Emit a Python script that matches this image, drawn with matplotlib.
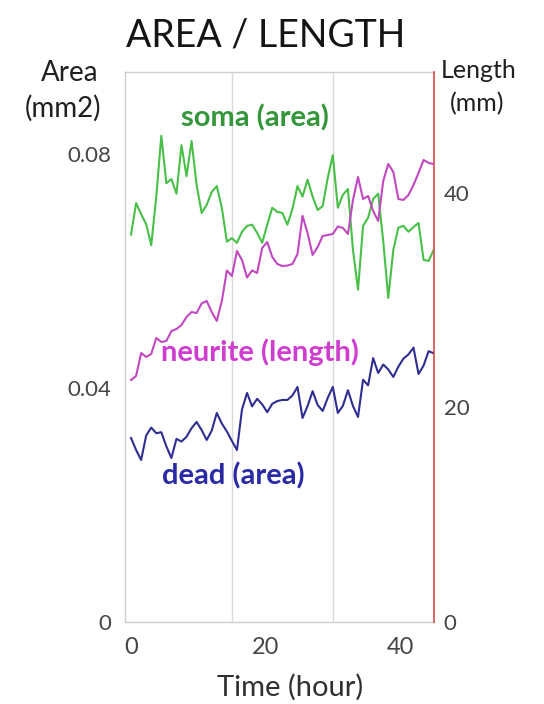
import numpy as np
import matplotlib
matplotlib.use("Agg")
import matplotlib.pyplot as plt
from matplotlib.ticker import FixedLocator, NullFormatter

# ---- data ----
time_hours = np.arange(0, 45.01, 0.75)

soma_area = [0.0662, 0.0716, 0.0697, 0.0680, 0.0644, 0.0727, 0.0831, 0.0750, 0.0757, 0.0732,
             0.0815, 0.0762, 0.0822, 0.0747, 0.0699, 0.0713, 0.0735, 0.0745, 0.0708, 0.0650,
             0.0656, 0.0648, 0.0667, 0.0677, 0.0679, 0.0665, 0.0648, 0.0679, 0.0708, 0.0701,
             0.0699, 0.0679, 0.0706, 0.0745, 0.0727, 0.0756, 0.0727, 0.0704, 0.0711, 0.0759,
             0.0798, 0.0708, 0.0730, 0.0740, 0.0636, 0.0568, 0.0677, 0.0691, 0.0723, 0.0732,
             0.0651, 0.0554, 0.0636, 0.0674, 0.0677, 0.0667, 0.0675, 0.0682, 0.0619, 0.0617,
             0.0636]

neurite_length = [22.56, 22.94, 25.08, 24.71, 24.99, 26.48, 26.11, 26.20, 27.13, 27.32,
                  27.69, 28.44, 28.90, 28.81, 29.70, 29.93, 28.90, 28.07, 29.93, 32.77,
                  32.26, 34.59, 33.75, 32.12, 32.78, 32.54, 34.87, 35.43, 34.03, 33.38,
                  33.19, 33.23, 33.38, 34.31, 37.86, 36.27, 34.22, 34.97, 35.99, 36.08,
                  36.18, 36.88, 36.74, 36.18, 39.35, 41.49, 39.44, 39.72, 38.32, 37.39,
                  41.12, 42.70, 41.96, 39.44, 39.35, 39.81, 40.75, 41.86, 43.08, 42.80,
                  42.70]

dead_area = [0.03145, 0.02940, 0.02769, 0.03188, 0.03323, 0.03226, 0.03244, 0.03002, 0.02803, 0.03130,
             0.03084, 0.03166, 0.03313, 0.03419, 0.03280, 0.03111, 0.03272, 0.03573, 0.03393, 0.03255,
             0.03094, 0.02940, 0.03634, 0.03915, 0.03685, 0.03815, 0.03720, 0.03586, 0.03730, 0.03776,
             0.03795, 0.03795, 0.03872, 0.04017, 0.03487, 0.03691, 0.03945, 0.03708, 0.03607, 0.03831,
             0.04017, 0.03573, 0.03694, 0.03961, 0.03691, 0.03504, 0.04140, 0.04044, 0.04511, 0.04256,
             0.04400, 0.04316, 0.04188, 0.04364, 0.04501, 0.04573, 0.04689, 0.04239, 0.04383, 0.04629,
             0.04593]

x_ticks = [0, 20, 40]
x_grid = [15, 30]
area_ticks = [0, 0.04, 0.08]
area_tick_labels = ["0", "0.04", "0.08"]
length_ticks = [0, 20, 40]

# ---- style ----
plt.rcParams['font.family'] = ['Lato', 'DejaVu Sans']

W, H = 544, 704
fig = plt.figure(figsize=(W / 100, H / 100), dpi=100)
ax = fig.add_axes([125 / W, 82 / H, 309 / W, 550 / H])
ax2 = ax.twinx()

green = '#48c048'
blue = '#2e2e92'
magenta = '#c048c0'

ax.plot(time_hours, soma_area, color=green, lw=1.5, zorder=3)
ax.plot(time_hours, dead_area, color=blue, lw=1.5, zorder=3)
ax2.plot(time_hours, neurite_length, color=magenta, lw=1.5, zorder=3)

ax.set_xlim(-0.9, 45.05)
ax.set_ylim(0, 0.0940)
ax2.set_ylim(0, 51.28)

ax.xaxis.set_major_locator(FixedLocator(x_ticks))
ax.xaxis.set_minor_locator(FixedLocator(x_grid))
ax.xaxis.set_minor_formatter(NullFormatter())
ax.grid(which='minor', axis='x', color='#d9d9d9', lw=1.0)
ax.grid(which='major', visible=False)

ax.set_yticks(area_ticks)
ax.set_yticklabels(area_tick_labels)
ax2.set_yticks(length_ticks)

tick_col = '#454545'
ax.tick_params(axis='x', which='both', length=0, pad=11, labelsize=17, labelcolor=tick_col)
ax.tick_params(axis='y', length=0, pad=10, labelsize=16, labelcolor=tick_col)
ax2.tick_params(axis='y', length=0, pad=7, labelsize=16, labelcolor=tick_col)

for s in ['left', 'top', 'bottom']:
    ax.spines[s].set_color('#cfcfcf')
    ax.spines[s].set_linewidth(1.0)
ax.spines['right'].set_visible(False)
for s in ['left', 'top', 'bottom']:
    ax2.spines[s].set_visible(False)
ax2.spines['right'].set_color('#d84848')
ax2.spines['right'].set_linewidth(1.2)

ax.set_xlabel('Time (hour)', fontsize=21, color='#303030')
ax.xaxis.set_label_coords(0.534, -0.095)

# ---- annotations ----
fig.text(266 / W, 1 - 36 / H, 'AREA / LENGTH', ha='center', va='center',
         fontsize=27, color='#151515')
fig.text(70 / W, 1 - 73 / H, 'Area', ha='center', va='center', fontsize=20, color='#202020')
fig.text(63 / W, 1 - 108 / H, '(mm2)', ha='center', va='center', fontsize=20, color='#202020')
fig.text(479 / W, 1 - 70 / H, 'Length', ha='center', va='center', fontsize=18, color='#202020')
fig.text(477 / W, 1 - 104 / H, '(mm)', ha='center', va='center', fontsize=18, color='#202020')

fig.text(255 / W, 1 - 118 / H, 'soma (area)', ha='center', va='center', fontsize=21,
         fontweight='bold', color='#33963a')
fig.text(260 / W, 1 - 352 / H, 'neurite (length)', ha='center', va='center', fontsize=21,
         fontweight='bold', color='#d03cd0')
fig.text(233 / W, 1 - 476 / H, 'dead (area)', ha='center', va='center', fontsize=21,
         fontweight='bold', color='#2a2aa6')

fig.savefig('out.png', dpi=100, facecolor='white')
